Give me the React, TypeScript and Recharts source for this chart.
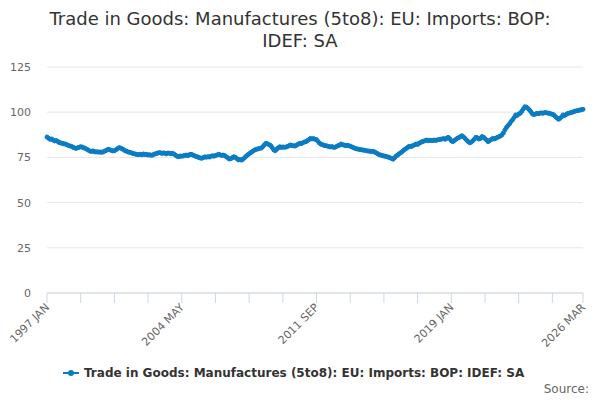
import React from "react";
import { LineChart, Line, XAxis, YAxis, CartesianGrid } from "recharts";

const TITLE_LINES = ["Trade in Goods: Manufactures (5to8): EU: Imports: BOP:", "IDEF: SA"];
const SERIES_NAME = "Trade in Goods: Manufactures (5to8): EU: Imports: BOP: IDEF: SA";
const LINE_COLOR = "#0a7cc4";

const START_YEAR = 1997;
const MONTHS = ["JAN", "FEB", "MAR", "APR", "MAY", "JUN", "JUL", "AUG", "SEP", "OCT", "NOV", "DEC"];

// monthly values, 1997 JAN .. 2026 MAR
const values: number[] = [
  86.3, 85.6, 85.0, 85.2, 84.6, 84.1, 84.3, 83.8, 83.2, 83.0, 82.8, 82.5,
  82.4, 82.0, 81.6, 81.3, 81.1, 80.6, 80.2, 80.0, 80.3, 80.6, 80.9, 80.7,
  80.3, 80.0, 79.5, 79.0, 78.5, 78.3, 78.6, 78.2, 78.0, 78.1, 77.9, 78.0,
  77.8, 78.2, 78.6, 79.0, 79.5, 79.2, 78.9, 78.6, 78.7, 79.2, 79.8, 80.4,
  80.2, 79.8, 79.3, 78.7, 78.4, 78.0, 77.8, 77.6, 77.2, 77.0, 76.8, 76.6,
  76.5, 76.7, 76.4, 76.9, 76.6, 76.7, 76.3, 76.5, 76.2, 76.3, 76.8, 77.0,
  77.3, 77.6, 77.6, 77.2, 77.5, 77.3, 77.0, 77.4, 77.3, 77.1, 77.3, 76.8,
  76.2, 75.6, 75.4, 75.8, 75.6, 75.9, 76.1, 76.3, 76.0, 76.5, 76.7, 76.4,
  76.0, 75.6, 75.4, 75.0, 74.7, 74.5, 74.9, 75.3, 75.1, 75.4, 75.2, 75.6,
  75.9, 75.7, 76.0, 76.3, 76.7, 76.4, 76.1, 76.3, 76.0, 75.4, 74.8, 74.1,
  74.3, 74.8, 75.4, 75.0, 74.3, 73.6, 73.8, 73.5, 74.0, 74.8, 75.6, 76.4,
  77.0, 77.6, 78.2, 78.8, 79.3, 79.5, 79.8, 80.0, 80.2, 81.0, 82.0, 82.8,
  82.5, 82.0, 81.6, 80.5, 79.2, 78.7, 79.5, 80.3, 80.9, 80.5, 80.8, 80.6,
  80.7, 81.0, 81.5, 81.9, 81.6, 81.4, 81.3, 81.8, 82.3, 82.8, 82.6, 83.1,
  83.5, 83.7, 84.2, 84.8, 85.5, 85.2, 85.4, 85.0, 84.8, 83.8, 82.8, 82.3,
  82.0, 81.6, 81.5, 81.3, 81.0, 80.8, 81.0, 80.6, 80.6, 81.0, 81.5, 81.8,
  82.4, 82.0, 81.8, 81.5, 81.7, 81.5, 81.2, 80.8, 80.5, 80.0, 79.8, 79.6,
  79.4, 79.3, 79.1, 79.0, 78.8, 78.6, 78.5, 78.4, 78.2, 78.3, 78.0, 77.5,
  77.0, 76.5, 76.3, 76.0, 75.8, 75.6, 75.4, 75.1, 74.8, 74.4, 74.0, 74.8,
  75.8, 76.3, 77.0, 77.6, 78.2, 79.0, 79.6, 80.2, 80.9, 81.2, 81.0, 81.6,
  81.9, 82.4, 82.2, 82.8, 83.3, 83.7, 84.0, 84.3, 84.6, 84.2, 84.5, 84.3,
  84.3, 84.6, 84.4, 84.7, 84.8, 85.0, 85.2, 85.4, 85.0, 85.6, 86.1, 85.3,
  84.2, 83.7, 84.3, 85.0, 85.6, 86.0, 86.5, 87.0, 86.3, 85.5, 84.5, 83.8,
  83.1, 83.4, 84.2, 85.0, 86.1, 85.8, 85.2, 85.5, 86.5, 86.2, 85.4, 84.6,
  83.7, 84.3, 84.8, 85.5, 85.2, 85.6, 86.0, 86.4, 86.8, 87.4, 88.5, 90.2,
  91.5, 92.6, 93.5, 94.8, 95.8, 97.0, 98.5, 98.2, 99.0, 99.4, 100.5, 101.8,
  103.0, 102.8, 102.1, 101.3, 100.2, 99.0, 98.7, 99.0, 99.4, 99.2, 99.5, 99.6,
  99.4, 99.8, 99.7, 99.5, 99.4, 99.1, 98.8, 98.5, 97.6, 96.8, 96.1, 96.6,
  97.4, 98.5, 98.2, 98.7, 99.3, 99.5, 99.7, 100.0, 100.3, 100.6, 100.8, 101.0,
  101.2, 101.4, 101.6,
];

const labelledMonths = ["1997 JAN", "2004 MAY", "2011 SEP", "2019 JAN", "2026 MAR"];
const yTicks = [0, 25, 50, 75, 100, 125];

const monthLabel = (i: number) =>
  `${START_YEAR + Math.floor(i / 12)} ${MONTHS[i % 12]}`;

const data = values.map((v, i) => ({ i, month: monthLabel(i), value: v }));

const lastIndex = values.length - 1;
const xTicks: number[] = [];
for (let t = 0; t < lastIndex; t += 22) xTicks.push(t);
xTicks.push(lastIndex);

const XTick = (props: any) => {
  const { x, payload } = props;
  const label = monthLabel(payload.value);
  if (!labelledMonths.includes(label)) return null;
  return (
    <g transform={`translate(${x + 3},${308})`}>
      <text
        x={0}
        y={0}
        textAnchor="end"
        transform="rotate(-45)"
        fill="#666"
        fontSize={11}
        fontFamily="DejaVu Sans"
      >
        {label}
      </text>
    </g>
  );
};

export default function App() {
  const font = "DejaVu Sans, sans-serif";
  return (
    <div style={{ position: "absolute", left: 0, top: 0, width: 600, height: 400, background: "#fff" }}>
      <div
        style={{
          position: "absolute",
          top: 8,
          left: 0,
          width: 600,
          textAlign: "center",
          fontFamily: font,
          fontSize: 18,
          lineHeight: "22px",
          color: "#333",
        }}
      >
        {TITLE_LINES.map((t) => (
          <div key={t}>{t}</div>
        ))}
      </div>
      <LineChart
        width={600}
        height={400}
        data={data}
        margin={{ top: 67, right: 17, bottom: 47, left: 0 }}
      >
        <CartesianGrid vertical={false} stroke="#e6e6e6" />
        <XAxis
          dataKey="i"
          type="number"
          domain={[0, lastIndex]}
          ticks={xTicks}
          interval={0}
          height={60}
          stroke="#ccd6eb"
          tickSize={10}
          tick={<XTick />}
        />
        <YAxis
          domain={[0, 125]}
          ticks={yTicks}
          width={47}
          axisLine={false}
          tickLine={false}
          tickSize={0}
          tickMargin={16}
          tick={{ fill: "#666", fontSize: 11, fontFamily: font }}
        />
        <Line
          dataKey="value"
          stroke={LINE_COLOR}
          strokeWidth={2}
          dot={{ r: 2, fill: LINE_COLOR, stroke: LINE_COLOR, strokeWidth: 1 }}
          isAnimationActive={false}
        />
      </LineChart>
      <div
        style={{
          position: "absolute",
          top: 366,
          left: 62,
          display: "flex",
          alignItems: "center",
          fontFamily: font,
          fontSize: 12,
          fontWeight: "bold",
          color: "#333",
        }}
      >
        <svg width={18} height={12} style={{ marginRight: 4 }}>
          <line x1={1} y1={6} x2={17} y2={6} stroke={LINE_COLOR} strokeWidth={2} />
          <circle cx={9} cy={6} r={3} fill={LINE_COLOR} />
        </svg>
        <span>{SERIES_NAME}</span>
      </div>
      <div
        style={{
          position: "absolute",
          top: 382,
          right: 11,
          fontFamily: font,
          fontSize: 12,
          color: "#666",
        }}
      >
        Source:
      </div>
    </div>
  );
}
